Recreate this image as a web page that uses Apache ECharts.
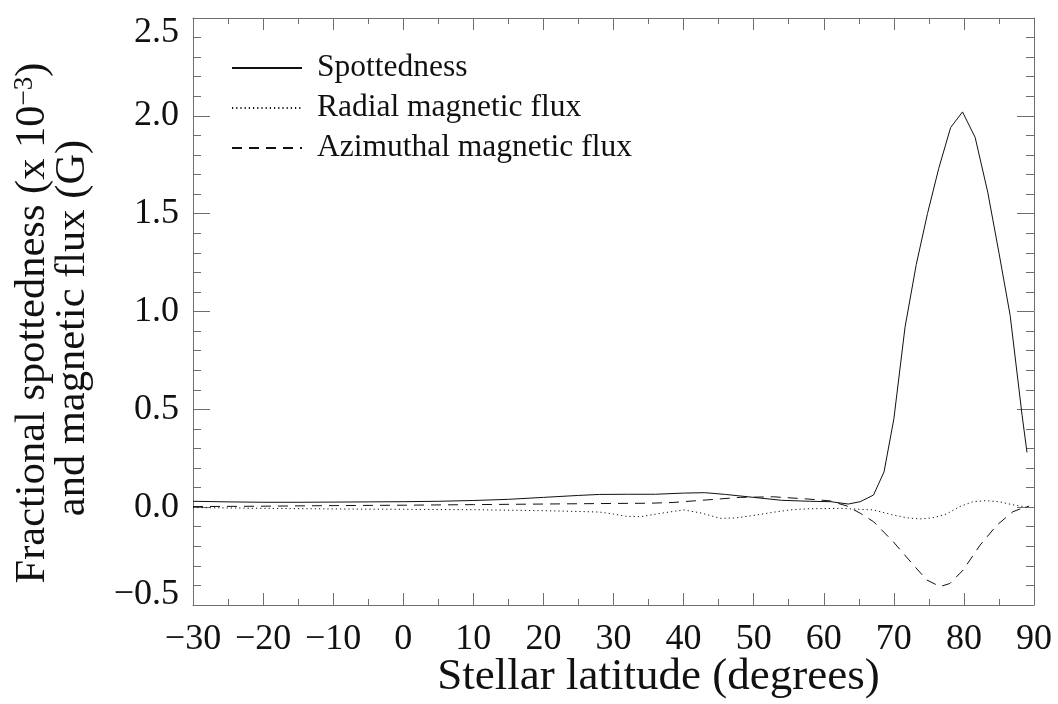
<!DOCTYPE html>
<html>
<head>
<meta charset="utf-8">
<script src="https://cdn.jsdelivr.net/npm/echarts@6/dist/echarts.min.js"></script>
<style>
  html, body { margin: 0; padding: 0; background: #fff; }
  #chart { width: 1058px; height: 704px; }
</style>
</head>
<body>
<div id="chart"></div>
<script>
// Latitude profiles of spottedness and surface magnetic flux
const spotLat = [-30, -25, -20, -15, -10, -5, 0, 5, 10, 15, 20, 25, 28, 32, 36, 40, 43, 46, 50, 54, 58, 61, 63.5, 65.2, 67.1, 68.6, 70.0, 71.6, 73.2, 74.8, 76.4, 78.1, 79.8, 81.6, 83.4, 85.0, 86.6, 88.3, 89.0];
const spotVal = [0.03, 0.027, 0.025, 0.025, 0.026, 0.027, 0.028, 0.03, 0.034, 0.04, 0.05, 0.06, 0.065, 0.066, 0.066, 0.072, 0.074, 0.065, 0.05, 0.035, 0.03, 0.028, 0.016, 0.028, 0.062, 0.18, 0.45, 0.92, 1.24, 1.5, 1.73, 1.94, 2.02, 1.89, 1.61, 1.30, 0.98, 0.47, 0.28];

const radLat = [-30, -25, -20, -10, 0, 10, 20, 25, 28, 30, 32, 34, 37, 40, 42.5, 45.2, 47.5, 50.4, 53, 55.2, 58, 62.3, 65.2, 67.1, 69.9, 72, 73.7, 75.5, 77.5, 79.4, 81.3, 83.0, 85, 87, 89];
const radVal = [-0.002, -0.004, -0.006, -0.009, -0.011, -0.013, -0.018, -0.022, -0.025, -0.035, -0.048, -0.048, -0.03, -0.014, -0.03, -0.057, -0.055, -0.04, -0.025, -0.014, -0.008, -0.006, -0.011, -0.014, -0.04, -0.055, -0.06, -0.055, -0.035, 0.003, 0.028, 0.033, 0.028, 0.012, 0.0];

const aziLat = [-30, -20, -10, 0, 10, 20, 30, 35, 38.5, 43.3, 48.1, 52.8, 57.6, 60.9, 63.3, 65.2, 67.1, 69.9, 72.8, 74.7, 76.6, 78.0, 79.9, 82.3, 84.7, 87.0, 88.7, 89.3];
const aziVal = [0.003, 0.005, 0.008, 0.01, 0.013, 0.016, 0.019, 0.02, 0.024, 0.037, 0.05, 0.053, 0.042, 0.032, 0.006, -0.031, -0.074, -0.176, -0.296, -0.372, -0.406, -0.39, -0.321, -0.194, -0.092, -0.023, 0.0, 0.005];

const seriesNames = ['Spottedness', 'Radial magnetic flux', 'Azimuthal magnetic flux'];
const xTitle = 'Stellar latitude (degrees)';

const FONT = 'Liberation Serif';
const AXIS_GREY = '#6e6e6e';
const INK = '#111';

function pairs(xs, ys) { return xs.map((x, i) => [x, ys[i]]); }
function minus(s) { return String(s).replace('-', '\u2212'); }

const chart = echarts.init(document.getElementById('chart'));

const axisLineStyle = { onZero: false, lineStyle: { color: AXIS_GREY, width: 1 } };

const option = {
  backgroundColor: '#fff',
  animation: false,
  grid: { left: 193, right: 24, top: 18, bottom: 99, containLabel: false, outerBoundsMode: 'none' },
  legend: {
    orient: 'vertical',
    left: 226,
    top: 47,
    itemWidth: 70,
    itemHeight: 14,
    itemGap: 8,
    data: seriesNames,
    itemStyle: { opacity: 0 },
    textStyle: { fontFamily: FONT, fontSize: 31.5, color: INK, lineHeight: 31.5, padding: [0, 0, 0, 10] }
  },
  xAxis: [
    {
      type: 'value', min: -30, max: 90, interval: 10, position: 'bottom',
      axisLine: axisLineStyle,
      axisTick: { inside: true, length: 12, lineStyle: { color: AXIS_GREY } },
      minorTick: { show: true, splitNumber: 2, length: 6, lineStyle: { color: AXIS_GREY } },
      splitLine: { show: false },
      axisLabel: { fontFamily: FONT, fontSize: 36, color: INK, margin: 17, formatter: v => minus(v) },
      name: xTitle, nameLocation: 'middle', nameGap: 50, nameMoveOverlap: false,
      nameTextStyle: { fontFamily: FONT, fontSize: 45, color: INK, padding: [0, 0, 0, 90] }
    },
    {
      type: 'value', min: -30, max: 90, interval: 10, position: 'top',
      axisLine: axisLineStyle,
      axisTick: { inside: true, length: 12, lineStyle: { color: AXIS_GREY } },
      minorTick: { show: true, splitNumber: 2, length: 6, lineStyle: { color: AXIS_GREY } },
      splitLine: { show: false }, axisLabel: { show: false }
    }
  ],
  yAxis: [
    {
      type: 'value', min: -0.5, max: 2.5, interval: 0.5, position: 'left',
      axisLine: axisLineStyle,
      axisTick: { inside: true, length: 17, lineStyle: { color: AXIS_GREY } },
      minorTick: { show: true, splitNumber: 5, length: 8, lineStyle: { color: AXIS_GREY } },
      splitLine: { show: false },
      axisLabel: {
        fontFamily: FONT, fontSize: 36, color: INK, margin: 14,
        showMinLabel: true, showMaxLabel: true,
        formatter: v => {
          const t = minus(v.toFixed(1));
          if (v >= 2.5) return '{top|' + t + '}';
          if (v <= -0.5) return '{bot|' + t + '}';
          return t;
        },
        rich: {
          top: { fontFamily: FONT, fontSize: 36, color: INK, padding: [30, 0, 0, 0] },
          bot: { fontFamily: FONT, fontSize: 36, color: INK, padding: [0, 0, 20, 0] }
        }
      }
    },
    {
      type: 'value', min: -0.5, max: 2.5, interval: 0.5, position: 'right',
      axisLine: axisLineStyle,
      axisTick: { inside: true, length: 17, lineStyle: { color: AXIS_GREY } },
      minorTick: { show: true, splitNumber: 5, length: 8, lineStyle: { color: AXIS_GREY } },
      splitLine: { show: false }, axisLabel: { show: false }
    }
  ],
  graphic: [
    {
      type: 'text', x: 33, y: 323, rotation: Math.PI / 2,
      style: {
        text: 'Fractional spottedness (x 10{sup|\u22123})',
        fontFamily: FONT, fontSize: 42.5, fill: INK,
        align: 'center', verticalAlign: 'middle',
        rich: { sup: { fontFamily: FONT, fontSize: 27, fill: INK, verticalAlign: 'top', padding: [0, 0, 16, 0] } }
      }
    },
    {
      type: 'text', x: 73, y: 328, rotation: Math.PI / 2,
      style: {
        text: 'and magnetic flux (G)',
        fontFamily: FONT, fontSize: 42.5, fill: INK,
        align: 'center', verticalAlign: 'middle'
      }
    }
  ],
  series: [
    {
      name: seriesNames[0], type: 'line', data: pairs(spotLat, spotVal),
      showSymbol: false, symbol: 'none', smooth: false,
      lineStyle: { color: INK, width: 1, type: 'solid' }, itemStyle: { color: INK }
    },
    {
      name: seriesNames[1], type: 'line', data: pairs(radLat, radVal),
      showSymbol: false, symbol: 'none', smooth: false,
      lineStyle: { color: INK, width: 1, type: [1.2, 3] }, itemStyle: { color: INK }
    },
    {
      name: seriesNames[2], type: 'line', data: pairs(aziLat, aziVal),
      showSymbol: false, symbol: 'none', smooth: false,
      lineStyle: { color: INK, width: 1, type: [10, 7] }, itemStyle: { color: INK }
    }
  ]
};

chart.setOption(option);
</script>
</body>
</html>
